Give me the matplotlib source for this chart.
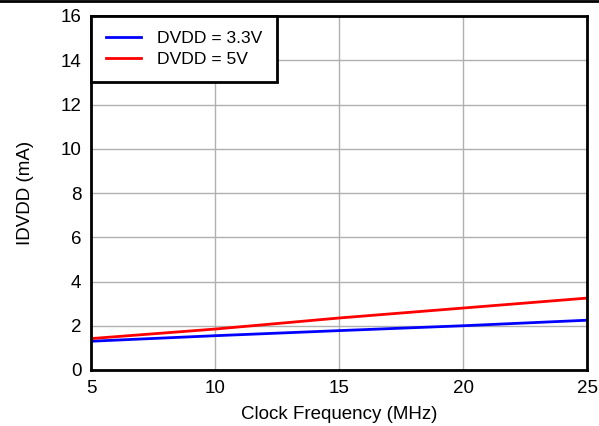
import matplotlib.pyplot as plt
from matplotlib.lines import Line2D

plt.rcParams['font.family'] = ['Liberation Sans', 'DejaVu Sans']

# clock frequency (MHz)
freq = [5, 10, 15, 20, 25]
# supply current (mA)
i_33v = [1.30, 1.55, 1.78, 2.00, 2.25]
i_5v = [1.42, 1.85, 2.35, 2.80, 3.25]

fig = plt.figure(figsize=(5.99, 4.26), dpi=100)
ax = fig.add_axes([91/599, 1 - 370/426, (587-91)/599, (370-16)/426])

ax.plot(freq, i_33v, color='#0000ff', lw=2, label='DVDD = 3.3V')
ax.plot(freq, i_5v, color='#ff0000', lw=2, label='DVDD = 5V')

ax.set_xlim(5, 25)
ax.set_ylim(0, 16)
ax.set_xticks([5, 10, 15, 20, 25])
ax.set_yticks(range(0, 17, 2))
ax.grid(True, color='#b0b0b0', lw=1)
ax.set_axisbelow(True)
for s in ax.spines.values():
    s.set_linewidth(2)
ax.tick_params(length=0, labelsize=13.5, pad=7)
ax.set_xlabel('Clock Frequency (MHz)', fontsize=13.5, labelpad=7)
ax.set_ylabel('IDVDD (mA)', fontsize=13.5, labelpad=19)

leg = ax.legend(loc='upper left', fontsize=12.6, fancybox=False, framealpha=1,
                edgecolor='black', borderaxespad=0, handlelength=2.0,
                handletextpad=0.9, borderpad=0.85, labelspacing=0.35)
leg.get_frame().set_linewidth(2)

fig.add_artist(Line2D([0, 1], [0.998, 0.998], color='black', lw=2))

fig.savefig('out.png', dpi=100)
